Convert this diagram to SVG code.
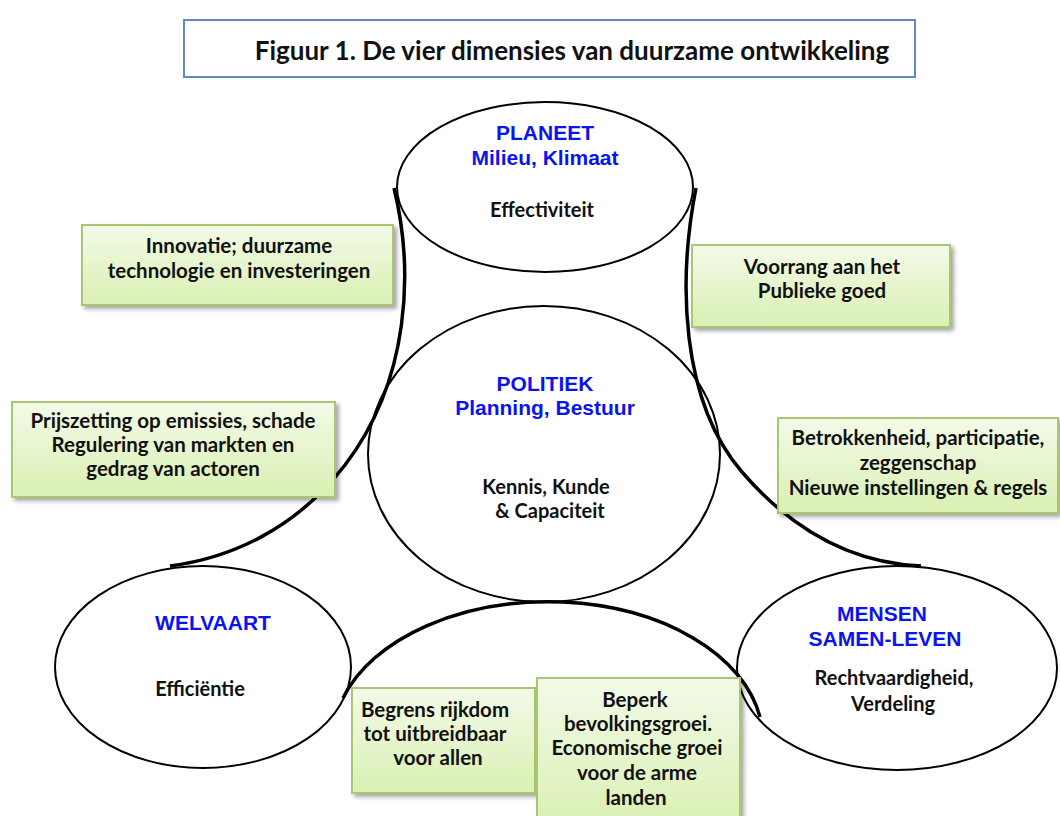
<svg xmlns="http://www.w3.org/2000/svg" width="1060" height="816" viewBox="0 0 1060 816">
  <defs>
    <linearGradient id="boxFill" x1="0" y1="0" x2="0" y2="1">
      <stop offset="0" stop-color="#F3FAE8"/>
      <stop offset="1" stop-color="#D9F0B2"/>
    </linearGradient>
    <filter id="shadow" x="-10%" y="-10%" width="125%" height="130%">
      <feGaussianBlur in="SourceAlpha" stdDeviation="2"/>
      <feOffset dx="3" dy="3" result="b"/>
      <feComponentTransfer><feFuncA type="linear" slope="0.35"/></feComponentTransfer>
      <feMerge><feMergeNode/><feMergeNode in="SourceGraphic"/></feMerge>
    </filter>
  </defs>
  <style>
    .ell { fill: none; stroke: #000; stroke-width: 2; }
    .link { fill: none; stroke: #000; stroke-width: 3.5; stroke-linecap: butt; }
    .box { fill: url(#boxFill); stroke: #A9C772; stroke-width: 2; filter: url(#shadow); }
    .head { font-family: "Liberation Sans", Arial, sans-serif; font-weight: bold; font-size: 21px; fill: #0A14F0; text-anchor: middle; }
    .sub { font-family: Lato, "Open Sans", sans-serif; font-weight: bold; font-size: 20px; fill: #111; text-anchor: middle; }
    .note { font-family: Lato, "Open Sans", sans-serif; font-weight: bold; font-size: 20.5px; fill: #111; text-anchor: middle; }
    .title { font-family: Lato, "Open Sans", sans-serif; font-weight: bold; font-size: 26px; fill: #111; text-anchor: middle; }
  </style>
  <rect width="1060" height="816" fill="#fff"/>

  <!-- heading -->
  <g id="title">
    <rect x="184" y="20" width="731" height="57" fill="#fff" stroke="#5F8AC6" stroke-width="2"/>
    <text class="title" x="572" y="60">Figuur 1. De vier dimensies van duurzame ontwikkeling</text>
  </g>

  <!-- connecting curves between the dimensions -->
  <g id="connectors">
    <path class="link" d="M394,188 C414,270 410,380 345,465 C295,530 230,558 170,566"/>
    <path class="link" d="M696,188 C678,280 680,400 742,472 C792,530 852,563 921,566"/>
    <path class="link" d="M343,698 A215,138 0 0 1 760,717"/>
  </g>

  <g id="planeet">
    <ellipse class="ell" cx="545" cy="187" rx="148" ry="85"/>
    <text class="head" x="545" y="140">PLANEET</text>
    <text class="head" x="545" y="165">Milieu, Klimaat</text>
    <text class="sub" x="542" y="217">Effectiviteit</text>
  </g>

  <g id="politiek">
    <ellipse class="ell" cx="544" cy="454" rx="176" ry="148"/>
    <text class="head" x="545" y="391">POLITIEK</text>
    <text class="head" x="545" y="415">Planning, Bestuur</text>
    <text class="sub" x="546" y="494">Kennis, Kunde</text>
    <text class="sub" x="550" y="518">&amp; Capaciteit</text>
  </g>

  <g id="welvaart">
    <ellipse class="ell" cx="203" cy="667" rx="148" ry="101"/>
    <text class="head" x="213" y="630">WELVAART</text>
    <text class="sub" x="200" y="696">Efficiëntie</text>
  </g>

  <g id="mensen">
    <ellipse class="ell" cx="897" cy="668" rx="160" ry="102"/>
    <text class="head" x="882" y="621">MENSEN</text>
    <text class="head" x="885" y="646">SAMEN-LEVEN</text>
    <text class="sub" x="894" y="685">Rechtvaardigheid,</text>
    <text class="sub" x="893" y="711">Verdeling</text>
  </g>

  <g id="innovatie">
    <rect class="box" x="82" y="225" width="311" height="80"/>
    <text class="note" x="239" y="253">Innovatie; duurzame</text>
    <text class="note" x="239" y="278">technologie en investeringen</text>
  </g>

  <g id="voorrang">
    <rect class="box" x="692" y="245" width="258" height="82"/>
    <text class="note" x="822" y="274">Voorrang aan het</text>
    <text class="note" x="822" y="298">Publieke goed</text>
  </g>

  <g id="prijszetting">
    <rect class="box" x="12" y="402" width="323" height="95"/>
    <text class="note" x="173" y="428">Prijszetting op emissies, schade</text>
    <text class="note" x="173" y="452">Regulering van markten en</text>
    <text class="note" x="173" y="476">gedrag van actoren</text>
  </g>

  <g id="betrokkenheid">
    <rect class="box" x="778" y="418" width="280" height="95"/>
    <text class="note" x="918" y="445">Betrokkenheid, participatie,</text>
    <text class="note" x="918" y="470">zeggenschap</text>
    <text class="note" x="918" y="495">Nieuwe instellingen &amp; regels</text>
  </g>

  <g id="begrens">
    <rect class="box" x="352" y="688" width="183" height="105"/>
    <text class="note" x="435" y="717">Begrens rijkdom</text>
    <text class="note" x="435" y="741">tot uitbreidbaar</text>
    <text class="note" x="438" y="765">voor allen</text>
  </g>

  <g id="beperk">
    <rect class="box" x="537" y="678" width="203" height="150"/>
    <text class="note" x="635" y="707">Beperk</text>
    <text class="note" x="638" y="731">bevolkingsgroei.</text>
    <text class="note" x="637" y="755">Economische groei</text>
    <text class="note" x="637" y="780">voor de arme</text>
    <text class="note" x="636" y="805">landen</text>
  </g>
</svg>
